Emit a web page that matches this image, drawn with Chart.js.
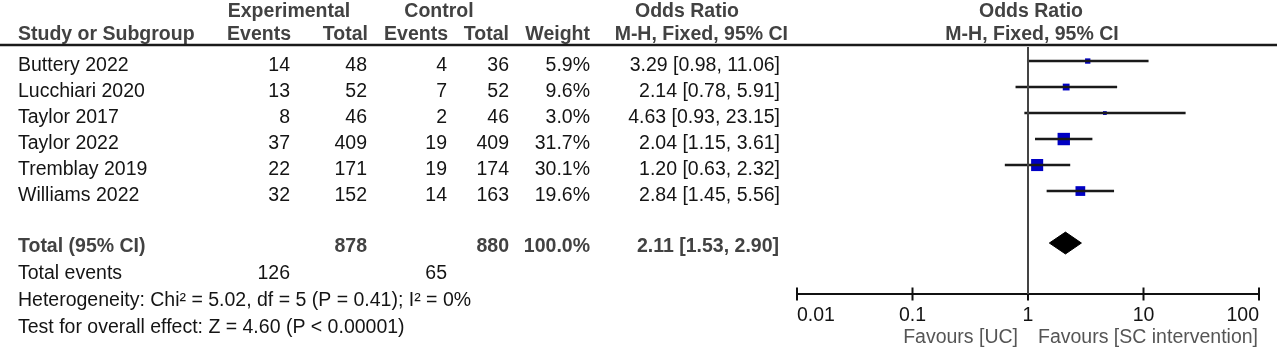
<!DOCTYPE html>
<html>
<head>
<meta charset="utf-8">
<script src="https://cdn.jsdelivr.net/npm/chart.js@4.4.0/dist/chart.umd.min.js"></script>
<style>
  html, body { margin: 0; padding: 0; background: #fff; }
  #wrap { width: 1280px; height: 348px; position: relative; }
</style>
</head>
<body>
<div id="wrap"><canvas id="forest"></canvas></div>
<script>
// Study data
const studies = ["Buttery 2022", "Lucchiari 2020", "Taylor 2017", "Taylor 2022", "Tremblay 2019", "Williams 2022"];
const expEvents = [14, 13, 8, 37, 22, 32];
const expTotal = [48, 52, 46, 409, 171, 152];
const ctrlEvents = [4, 7, 2, 19, 19, 14];
const ctrlTotal = [36, 52, 46, 409, 174, 163];
const weights = [5.9, 9.6, 3.0, 31.7, 30.1, 19.6];
const oddsRatio = [3.29, 2.14, 4.63, 2.04, 1.20, 2.84];
const ciLow = [0.98, 0.78, 0.93, 1.15, 0.63, 1.45];
const ciHigh = [11.06, 5.91, 23.15, 3.61, 2.32, 5.56];

// Pooled result
const pooled = [2.11, 1.53, 2.90]; // OR, low, high
const totalWeight = 100.0; // unrounded weights add up to 100
const statsLines = [
  "Heterogeneity: Chi\u00b2 = 5.02, df = 5 (P = 0.41); I\u00b2 = 0%",
  "Test for overall effect: Z = 4.60 (P < 0.00001)"
];

// Axis
const axisTicks = [0.01, 0.1, 1, 10, 100];
const favourLabels = ["Favours [UC]", "Favours [SC intervention]"];

// layout bits
const FONT = "'Liberation Sans', Arial, sans-serif";
const FSIZE = 19.5;
const TOTAL_ROW = 7;
const Y_MIN = -0.54, Y_MAX = 8.96;

const sum = (arr) => arr.reduce((a, b) => a + b, 0);
const fmtCI = (or, lo, hi) => `${or.toFixed(2)} [${lo.toFixed(2)}, ${hi.toFixed(2)}]`;

// datasets
const ciSets = studies.map((s, i) => ({
  data: [{ x: ciLow[i], y: i }, { x: ciHigh[i], y: i }],
  showLine: true,
  borderColor: "#1a1a1a",
  borderWidth: 2.5,
  pointRadius: 0,
  clip: false
}));

const squares = {
  data: studies.map((s, i) => ({ x: oddsRatio[i], y: i })),
  pointStyle: "rect",
  pointRadius: weights.map(w => 2.2 * Math.sqrt(w) / Math.SQRT2),
  backgroundColor: "#0000c4",
  borderWidth: 0
};

const diamond = {
  data: [
    { x: pooled[1], y: TOTAL_ROW },
    { x: pooled[0], y: TOTAL_ROW - 0.42 },
    { x: pooled[2], y: TOTAL_ROW },
    { x: pooled[0], y: TOTAL_ROW + 0.42 },
    { x: pooled[1], y: TOTAL_ROW }
  ],
  showLine: true,
  fill: "shape",
  backgroundColor: "#000",
  borderColor: "#000",
  borderWidth: 1,
  pointRadius: 0
};

const noEffect = {
  data: [{ x: 1, y: Y_MIN }, { x: 1, y: Y_MAX }],
  showLine: true,
  borderColor: "#444",
  borderWidth: 2,
  pointRadius: 0,
  clip: false
};

const tickMarks = {
  data: axisTicks.map(v => ({ x: v, y: Y_MAX })),
  pointStyle: "line",
  rotation: 90,
  pointRadius: 6.5,
  borderColor: "#111",
  borderWidth: 2,
  clip: false
};

function text(ctx, str, x, y, align, bold, color) {
  ctx.font = (bold ? "bold " : "") + FSIZE + "px " + FONT;
  ctx.textAlign = align;
  ctx.textBaseline = "alphabetic";
  ctx.fillStyle = color;
  ctx.fillText(str, x, y);
}

const tablePlugin = {
  id: "table",
  afterDraw(chart) {
    const ctx = chart.ctx;
    const ys = chart.scales.y;
    const xs = chart.scales.x;
    const head = "#424242", body = "#141414";
    ctx.save();

    // header
    text(ctx, "Experimental", 289, 17, "center", true, head);
    text(ctx, "Control", 439, 17, "center", true, head);
    text(ctx, "Odds Ratio", 687, 17, "center", true, head);
    text(ctx, "Odds Ratio", 1031, 17, "center", true, head);
    text(ctx, "Study or Subgroup", 18, 40, "left", true, head);
    text(ctx, "Events", 291, 40, "right", true, head);
    text(ctx, "Total", 368, 40, "right", true, head);
    text(ctx, "Events", 448, 40, "right", true, head);
    text(ctx, "Total", 509, 40, "right", true, head);
    text(ctx, "Weight", 590, 40, "right", true, head);
    text(ctx, "M-H, Fixed, 95% CI", 788, 40, "right", true, head);
    text(ctx, "M-H, Fixed, 95% CI", 1032, 40, "center", true, head);

    ctx.strokeStyle = "#1a1a1a";
    ctx.lineWidth = 2.5;
    ctx.beginPath();
    ctx.moveTo(0, 45);
    ctx.lineTo(1277, 45);
    ctx.stroke();

    // study rows
    studies.forEach((s, i) => {
      const y = ys.getPixelForValue(i) + 9.7;
      text(ctx, s, 18, y, "left", false, body);
      text(ctx, String(expEvents[i]), 290, y, "right", false, body);
      text(ctx, String(expTotal[i]), 367, y, "right", false, body);
      text(ctx, String(ctrlEvents[i]), 447, y, "right", false, body);
      text(ctx, String(ctrlTotal[i]), 509, y, "right", false, body);
      text(ctx, weights[i].toFixed(1) + "%", 590, y, "right", false, body);
      text(ctx, fmtCI(oddsRatio[i], ciLow[i], ciHigh[i]), 780, y, "right", false, body);
    });

    // total row
    const ty = ys.getPixelForValue(TOTAL_ROW) + 9;
    text(ctx, "Total (95% CI)", 18, ty, "left", true, head);
    text(ctx, String(sum(expTotal)), 367, ty, "right", true, head);
    text(ctx, String(sum(ctrlTotal)), 509, ty, "right", true, head);
    text(ctx, totalWeight.toFixed(1) + "%", 590, ty, "right", true, head);
    text(ctx, fmtCI(pooled[0], pooled[1], pooled[2]), 779, ty, "right", true, head);

    text(ctx, "Total events", 18, 279, "left", false, body);
    text(ctx, String(sum(expEvents)), 290, 279, "right", false, body);
    text(ctx, String(sum(ctrlEvents)), 447, 279, "right", false, body);
    text(ctx, statsLines[0], 18, 305.5, "left", false, body);
    text(ctx, statsLines[1], 18, 333, "left", false, body);

    // favours labels
    const x1 = xs.getPixelForValue(1);
    text(ctx, favourLabels[0], x1 - 10, 342.5, "right", false, "#555");
    text(ctx, favourLabels[1], x1 + 10, 342.5, "left", false, "#555");
    ctx.restore();
  }
};

new Chart(document.getElementById("forest"), {
  type: "scatter",
  data: { datasets: [noEffect, ...ciSets, squares, diamond, tickMarks] },
  options: {
    responsive: true,
    maintainAspectRatio: false,
    animation: false,
    events: [],
    layout: { padding: { left: 797, right: 21, top: 47, bottom: 0 } },
    plugins: { legend: { display: false }, tooltip: { enabled: false } },
    scales: {
      x: {
        type: "logarithmic",
        min: 0.01,
        max: 100,
        afterBuildTicks: (scale) => { scale.ticks = axisTicks.map(v => ({ value: v })); },
        afterFit: (scale) => { scale.height = 54; },
        grid: { display: false, drawTicks: false },
        border: { display: true, color: "#111", width: 2 },
        ticks: {
          autoSkip: false,
          maxRotation: 0,
          align: "inner",
          padding: 10,
          color: "#141414",
          font: { family: FONT, size: FSIZE },
          callback: (v) => String(v)
        }
      },
      y: {
        display: false,
        reverse: true,
        min: Y_MIN,
        max: Y_MAX
      }
    }
  },
  plugins: [tablePlugin]
});
</script>
</body>
</html>
